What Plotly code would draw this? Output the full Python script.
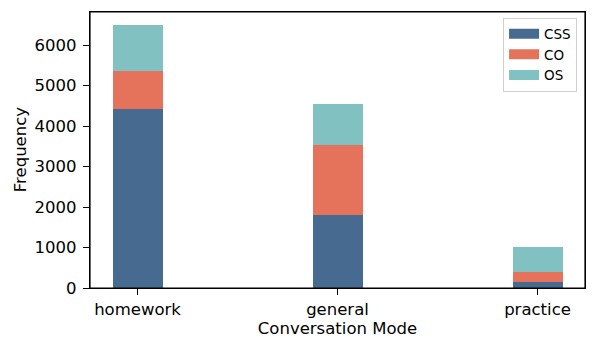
"""Stacked bar chart of conversation modes by category."""
import plotly.graph_objects as go

# Data
modes = ['homework', 'general', 'practice']
css_values = [4430, 1795, 155]
co_values = [920, 1730, 240]
os_values = [1140, 1020, 615]

colors = {
    'CSS': '#476A90',
    'CO': '#E5735C',
    'OS': '#82C1C2',
}

FONT = 'DejaVu Sans'
TICK_FONT = dict(family=FONT, size=16.5, color='black')

fig = go.Figure()

for name, values in [('CSS', css_values), ('CO', co_values), ('OS', os_values)]:
    fig.add_trace(go.Bar(
        x=modes,
        y=values,
        name=name,
        width=0.25,
        showlegend=False,
        marker=dict(color=colors[name], line=dict(width=0)),
    ))
    # Legend-only entry so the key is a wide patch like matplotlib's
    fig.add_trace(go.Scatter(
        x=[None], y=[None],
        name=name,
        mode='lines',
        line=dict(color=colors[name], width=10),
        hoverinfo='skip',
    ))

# Axes frame on all four sides
fig.add_shape(
    type='rect', xref='paper', yref='paper',
    x0=0, y0=0, x1=1, y1=1,
    line=dict(color='black', width=1.2),
    layer='above',
)

# Y axis title placed as an annotation for exact positioning
fig.add_annotation(
    text='Frequency',
    xref='paper', yref='paper',
    x=-0.141, y=0.5,
    xanchor='center', yanchor='middle',
    textangle=-90,
    showarrow=False,
    font=dict(family=FONT, size=16.5, color='black'),
)

fig.update_layout(
    barmode='stack',
    width=597,
    height=352,
    margin=dict(l=90, r=12, t=12, b=64, autoexpand=False),
    paper_bgcolor='white',
    plot_bgcolor='white',
    font=dict(family=FONT, size=16.5, color='black'),
    showlegend=True,
    legend=dict(
        x=0.984, y=0.98,
        xanchor='right', yanchor='top',
        traceorder='normal',
        bgcolor='rgba(255,255,255,0.8)',
        bordercolor='#d0d0d0',
        borderwidth=1,
        font=dict(family=FONT, size=13.5),
        tracegroupgap=0,
        itemwidth=30,
    ),
    xaxis=dict(
        range=[-0.2375, 2.2375],
        title=dict(text='Conversation Mode', standoff=4,
                   font=dict(family=FONT, size=16.5, color='black')),
        tickfont=TICK_FONT,
        showline=True, linecolor='black', linewidth=1.2, mirror=True,
        ticks='outside', ticklen=6, tickcolor='black',
        showgrid=False, zeroline=False, automargin=False,
    ),
    yaxis=dict(
        range=[0, 6815],
        dtick=1000,
        tickfont=TICK_FONT,
        ticklabelstandoff=3,
        showline=True, linecolor='black', linewidth=1.2, mirror=True,
        ticks='outside', ticklen=6, tickcolor='black',
        showgrid=False, zeroline=False, automargin=False,
    ),
)

# Remove the page's default body margin so the figure sits at the window origin
fig.write_html(
    "out.html",
    config={'displayModeBar': False},
    post_script="document.body.style.margin='0';",
)
